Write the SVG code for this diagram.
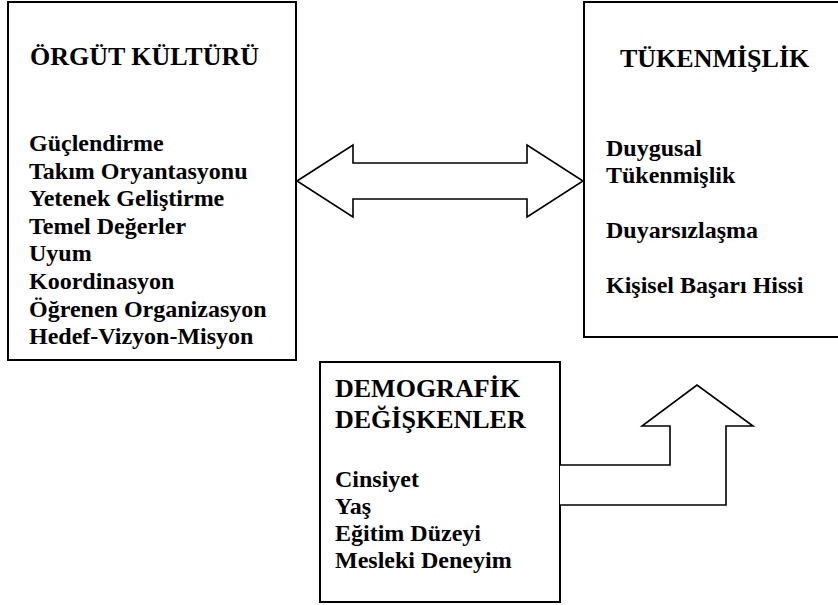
<svg xmlns="http://www.w3.org/2000/svg" width="838" height="605" viewBox="0 0 838 605">
<style>
.box{fill:#fff;stroke:#000;stroke-width:2}
.arr{fill:#fff;stroke:#000;stroke-width:1.6;stroke-linejoin:miter}
.h{font-size:26px}
.i{font-size:24px}
</style>
<rect width="838" height="605" fill="#fff"/>
<g id="orgut" font-family="'Liberation Serif', 'Times New Roman', Times, serif" font-weight="700" fill="#000">
<rect class="box" x="8" y="2" width="288" height="358"/>
<text class="h" x="30" y="65">ÖRGÜT KÜLTÜRÜ</text>
<text class="i" x="29" y="151">Güçlendirme</text>
<text class="i" x="29" y="178.6">Takım Oryantasyonu</text>
<text class="i" x="29" y="206.2">Yetenek Geliştirme</text>
<text class="i" x="29" y="233.8">Temel Değerler</text>
<text class="i" x="29" y="261.4">Uyum</text>
<text class="i" x="29" y="289">Koordinasyon</text>
<text class="i" x="29" y="316.6">Öğrenen Organizasyon</text>
<text class="i" x="29" y="344.2">Hedef-Vizyon-Misyon</text>
</g>
<g id="tukenmislik" font-family="'Liberation Serif', 'Times New Roman', Times, serif" font-weight="700" fill="#000">
<rect class="box" x="584" y="2" width="270" height="335"/>
<text class="h" x="620" y="67">TÜKENMİŞLİK</text>
<text class="i" x="606" y="156">Duygusal</text>
<text class="i" x="606" y="183">Tükenmişlik</text>
<text class="i" x="606" y="238">Duyarsızlaşma</text>
<text class="i" x="606" y="293">Kişisel Başarı Hissi</text>
</g>
<g id="demografik" font-family="'Liberation Serif', 'Times New Roman', Times, serif" font-weight="700" fill="#000">
<rect class="box" x="320" y="362" width="240" height="240"/>
<text class="h" x="335" y="397">DEMOGRAFİK</text>
<text class="h" x="335" y="428">DEĞİŞKENLER</text>
<text class="i" x="335" y="487">Cinsiyet</text>
<text class="i" x="335" y="514">Yaş</text>
<text class="i" x="335" y="541">Eğitim Düzeyi</text>
<text class="i" x="335" y="568">Mesleki Deneyim</text>
</g>
<g id="connectors">
<polygon class="arr" points="297,181 353,145 353,163 527,163 527,145 583,181 527,217 527,199 353,199 353,217"/>
<path class="arr" d="M560,465 L670,465 L670,426 L642,426 L697,385 L753,426 L726,426 L726,505 L560,505"/>
</g>
</svg>
